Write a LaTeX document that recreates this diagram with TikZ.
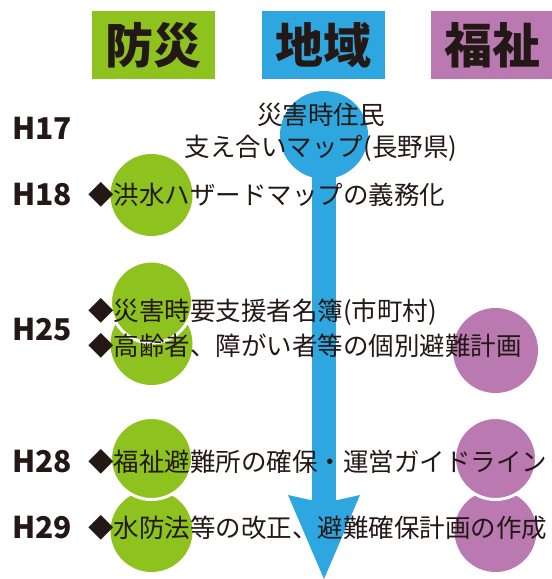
\documentclass[tikz,border=0pt]{standalone}
\usepackage{fontspec}
\setmainfont{Noto Sans CJK JP}
\usepackage{tikz}
\usetikzlibrary{shapes,arrows}
\usetikzlibrary{arrows.meta}
\usetikzlibrary{positioning}

\definecolor{bousai}{HTML}{8DC21F}
\definecolor{chiiki}{HTML}{2EA7E0}
\definecolor{fukushi}{HTML}{BA79B1}
\definecolor{ink}{HTML}{231815}

\newcommand{\headfont}{\fontsize{48pt}{52pt}\selectfont\bfseries}
\newcommand{\yearfont}{\fontsize{30pt}{34pt}\selectfont\bfseries}
\newcommand{\itemfont}{\fontsize{25.5pt}{35pt}\selectfont}

\begin{document}
\begin{tikzpicture}[x=1pt, y=-1pt, node distance = 169.5pt,
    head/.style={minimum width=123pt, minimum height=68pt, inner sep=0pt,
                 font=\headfont, text=ink},
    dot/.style={circle, inner sep=0pt, minimum size=82pt},
    gap/.style={draw=white, line width=3pt},
    year/.style={anchor=west, inner sep=0pt, font=\yearfont, text=ink},
    item/.style={anchor=west, inner sep=0pt, font=\itemfont, text=ink}]

      \useasboundingbox (0,0) rectangle (552,579);

      % column heads
      \node[head, fill=bousai] (bousai) at (153.5,45) {防災};
      \node[head, fill=chiiki, right of=bousai] (chiiki) {地域};
      \node[head, fill=fukushi, right of=chiiki] (fukushi) {福祉};

      % dots
      \node[dot, fill=chiiki, minimum size=88pt] (c17) at (324,135) {};
      \node[dot, fill=bousai] (b18) at (151.5,195) {};
      \node[dot, fill=bousai] (b25b) at (151.5,344) {};
      \node[dot, fill=bousai, gap] (b25a) at (151.5,302) {};
      \node[dot, fill=bousai] (b29) at (151.5,531) {};
      \node[dot, fill=bousai, gap] (b28) at (151.5,458.5) {};
      \node[dot, fill=fukushi, minimum size=85pt] (f25) at (495.5,350.5) {};
      \node[dot, fill=fukushi] (f29) at (495.5,531) {};
      \node[dot, fill=fukushi, gap] (f28) at (495.5,458.5) {};

      \coordinate (tip) at (324,579);
      \path[chiiki, line width=24pt,
            -{Stealth[length=84pt, width=72pt, inset=8pt, line width=0pt]}]
            (c17.center) edge (tip);

      % years
      \node[year] (h17) at (12,128.5) {H17};
      \node[year] (h18) at (12,194.5) {H18};
      \node[year] (h25) at (12,330) {H25};
      \node[year] (h28) at (12,462) {H28};
      \node[year] (h29) at (12,528) {H29};

      % items
      \node[align=center, inner sep=0pt, text=ink,
            font=\fontsize{25.5pt}{32pt}\selectfont] (t17) at (321,132)
            {災害時住民\\支え合いマップ(長野県)};
      \node[item] (t18) at (88,194.5) {◆洪水ハザードマップの義務化};
      \node[item, align=left] (t25) at (88,328.5)
            {◆災害時要支援者名簿(市町村)\\◆高齢者、障がい者等の個別避難計画};
      \node[item] (t28) at (88,462) {◆福祉避難所の確保・運営ガイドライン};
      \node[item] (t29) at (88,528) {◆水防法等の改正、避難確保計画の作成};
\end{tikzpicture}
\end{document}
